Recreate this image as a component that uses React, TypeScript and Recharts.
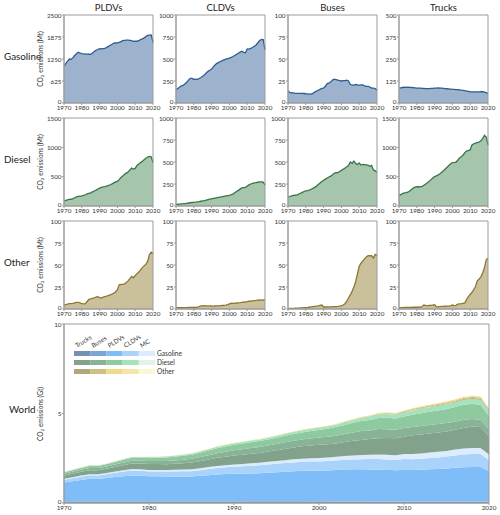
import { AreaChart, Area, XAxis, YAxis, ReferenceArea } from "recharts";

// years 1970..2020
const years = Array.from({ length: 51 }, (_, i) => 1970 + i);
const xTicks = [1970, 1980, 1990, 2000, 2010, 2020];

// Mt CO2, one value per year
const gasolinePLDVs = [
  1050, 1120, 1190, 1250, 1240, 1290, 1350, 1400, 1440, 1420,
  1400, 1395, 1390, 1390, 1385, 1380, 1420, 1460, 1500, 1520,
  1545, 1540, 1545, 1550, 1580, 1610, 1640, 1670, 1700, 1705,
  1710, 1720, 1745, 1770, 1780, 1785, 1785, 1780, 1770, 1750,
  1760, 1755, 1770, 1800, 1820, 1850, 1890, 1920, 1930, 1935,
  1720,
];
const gasolineCLDVs = [
  150, 165, 180, 195, 200, 215, 235, 260, 280, 280,
  270, 268, 270, 278, 290, 305, 320, 340, 360, 372,
  385, 410, 435, 450, 462, 472, 482, 490, 498, 505,
  510, 518, 528, 540, 552, 565, 578, 588, 575, 570,
  615, 612, 620, 630, 645, 660, 685, 710, 722, 720,
  605,
];
const gasolineBuses = [
  14, 12, 11.5, 11.5, 11, 11, 11, 11, 11, 10.8,
  10.5, 10.3, 10, 10.2, 11, 12.5, 13.5, 14.5, 15.5, 16.5,
  17, 19, 22, 22.5, 24, 26, 27, 26.5, 26, 25.5,
  25, 25.5, 25.5, 26, 25, 21, 20.5, 20, 21, 20.5,
  20, 20.5, 20.5, 19.5, 19, 19, 18, 17, 17, 16.5,
  14.5,
];
const gasolineTrucks = [
  84, 86, 88, 90, 89, 90, 89, 88, 87, 86,
  85, 84, 84, 83, 83, 82, 82, 82, 83, 83,
  84, 85, 86, 85, 84, 83, 82, 81, 80, 79,
  78, 77, 76, 76, 75, 73, 72, 70, 68, 66,
  64, 63, 63, 63, 63, 63, 64, 65, 62, 59,
  54,
];
const dieselPLDVs = [
  85, 95, 105, 112, 115, 125, 140, 155, 165, 170,
  172, 180, 192, 205, 215, 225, 240, 255, 270, 290,
  305, 318, 325, 330, 340, 350, 362, 378, 395, 410,
  420, 450, 485, 510, 540, 560, 580, 615, 645, 630,
  640, 690, 715, 740, 760, 790, 815, 835, 845, 840,
  740,
];
const dieselCLDVs = [
  18, 20, 22, 25, 26, 28, 31, 34, 37, 40,
  42, 44, 47, 50, 54, 58, 62, 67, 72, 77,
  82, 86, 90, 94, 98, 102, 106, 110, 114, 118,
  122, 128, 135, 150, 165, 178, 192, 205, 210, 212,
  228, 240, 250, 258, 263, 266, 270, 273, 275, 272,
  240,
];
const dieselBuses = [
  100, 108, 114, 120, 122, 127, 135, 145, 155, 165,
  172, 175, 180, 190, 200, 212, 228, 245, 262, 278,
  292, 305, 318, 330, 340, 355, 372, 378, 380, 392,
  405, 418, 430, 445, 460, 500, 485, 510, 485, 470,
  490, 465, 472, 470, 468, 465, 450, 462, 410, 400,
  380,
];
const dieselTrucks = [
  180, 195, 210, 225, 228, 235, 255, 280, 305, 322,
  330, 328, 325, 335, 355, 375, 395, 420, 450, 478,
  500, 512, 530, 550, 575, 600, 630, 660, 690, 720,
  740, 742, 745, 780, 820, 840, 870, 910, 940, 945,
  960, 1040, 1060, 1070, 1085, 1090, 1110, 1150, 1205, 1175,
  1040,
];
const otherPLDVs = [
  4.5, 5, 5.5, 6, 6.2, 6.5, 7, 7.5, 7.5, 7,
  6, 5.8, 6, 8.5, 11, 11.5, 12, 12.5, 13.5, 14,
  13, 12.5, 13.5, 14, 14.5, 15.5, 16, 17, 18, 19.5,
  22, 27.5, 28, 28, 28.5, 30, 32, 34.5, 37, 35.5,
  38, 40, 42, 44.5, 47, 49, 51, 54, 62, 64.5,
  63,
];
const otherCLDVs = [
  1.5, 1.5, 1.4, 1.4, 1.5, 1.5, 1.6, 1.7, 1.8, 1.8,
  1.7, 1.7, 2, 2.8, 3.5, 3.6, 3.7, 3.6, 3.5, 3.6,
  3.4, 3.3, 3.4, 3.5, 3.6, 3.8, 4, 4.2, 4.5, 5,
  5.8, 6.5, 6.3, 6.5, 6.8, 7, 7.2, 7.5, 8, 7.8,
  8.5, 8.8, 9, 9.3, 9.5, 9.7, 10, 10.2, 10, 10.3,
  10,
];
const otherBuses = [
  0.5, 0.6, 0.7, 0.8, 0.9, 1, 1.1, 1.2, 1.3, 1.4,
  1.5, 1.7, 2, 2.3, 2.6, 2.9, 3.2, 3.5, 4, 4.5,
  2.5, 2.3, 2.4, 2.5, 2.5, 2.6, 2.7, 2.8, 3, 3.3,
  3.8, 4.5, 6, 9, 12.5, 16, 20, 25, 31, 40,
  48.5, 52, 54.5, 57, 59, 60.5, 60.5, 60.5, 58, 62,
  61,
];
const otherTrucks = [
  1.5, 1.5, 1.6, 1.7, 1.7, 1.8, 1.8, 1.9, 2, 2,
  2, 2, 2.2, 2.8, 4.5, 4, 3.8, 4, 4.2, 4.5,
  4.8, 2.5, 2.6, 2.8, 3, 3, 3.1, 3.2, 3.3, 3.5,
  4.5, 3.8, 4.2, 5.5, 5.8, 6, 6.5, 7, 11, 14,
  16.5, 19, 22, 25.5, 32, 34, 36.5, 41, 47, 56,
  58,
];
// motorcycles, only in the world total
const mcGasoline = [
  50, 55, 60, 65, 62, 66, 70, 75, 80, 83,
  85, 87, 90, 94, 98, 102, 106, 110, 115, 120,
  125, 130, 136, 142, 148, 155, 162, 170, 175, 182,
  190, 198, 206, 215, 225, 235, 245, 255, 262, 268,
  280, 288, 295, 302, 310, 318, 325, 332, 340, 345,
  310,
];
const mcDiesel = [
  1, 1, 1, 1, 1, 1, 1, 1, 1, 1,
  1, 1, 1, 1, 1, 1, 2, 2, 2, 2,
  2, 2, 2, 2, 2, 3, 3, 3, 3, 3,
  3, 3, 4, 4, 4, 4, 5, 5, 5, 5,
  5, 6, 6, 6, 6, 6, 7, 7, 7, 7,
  6,
];
const mcOther = [
  1, 1, 1, 1, 1, 1, 1, 1, 1, 2,
  2, 2, 2, 2, 2, 2, 2, 2, 3, 3,
  3, 3, 3, 3, 3, 4, 4, 4, 4, 4,
  5, 5, 5, 6, 6, 6, 7, 7, 7, 8,
  8, 8, 9, 9, 9, 10, 10, 10, 10, 11,
  10,
];

const modes = ["PLDVs", "CLDVs", "Buses", "Trucks"];
const legendModes = ["Trucks", "Buses", "PLDVs", "CLDVs", "MC"];
const fuels = ["Gasoline", "Diesel", "Other"];

const gasolineTicks = [
  [0, 625, 1250, 1875, 2500],
  [0, 250, 500, 750, 1000],
  [0, 25, 50, 75, 100],
  [0, 125, 250, 375, 500],
];
const dieselTicks = [
  [0, 500, 1000, 1500],
  [0, 250, 500, 750, 1000],
  [0, 250, 500, 750, 1000],
  [0, 500, 1000, 1500],
];
const otherTicks = [
  [0, 25, 50, 75, 100],
  [0, 25, 50, 75, 100],
  [0, 25, 50, 75, 100],
  [0, 25, 50, 75, 100],
];
const worldTicks = [0, 5, 10];

const FONT = "Lato, 'Liberation Sans', Arial, sans-serif";
const FRAME = "#9b9b9b";
const TICK = { fontSize: 6.3, fill: "#333", fontFamily: FONT };

const fuelStyle = {
  Gasoline: { fill: "#9db2cc", stroke: "#2d5d92" },
  Diesel: { fill: "#a5c5ad", stroke: "#3a7448" },
  Other: { fill: "#cbc09c", stroke: "#8c7733" },
};

const worldColors = {
  Gasoline: ["#7491b6", "#7aa5d6", "#7fbdf8", "#a9d3fa", "#daecfd"],
  Diesel: ["#82a28b", "#89b396", "#8ec9a0", "#a4e3bc", "#e0f5e8"],
  Other: ["#b2a67b", "#d0c080", "#f1d98b", "#f6e5aa", "#fcf5da"],
};

const rows = [
  { fuel: "Gasoline", series: [gasolinePLDVs, gasolineCLDVs, gasolineBuses, gasolineTrucks], ticks: gasolineTicks },
  { fuel: "Diesel", series: [dieselPLDVs, dieselCLDVs, dieselBuses, dieselTrucks], ticks: dieselTicks },
  { fuel: "Other", series: [otherPLDVs, otherCLDVs, otherBuses, otherTrucks], ticks: otherTicks },
];

// world stack, bottom to top: Trucks, Buses, PLDVs, CLDVs, MC within each fuel
const worldStack = [
  { fuel: "Gasoline", series: [gasolineTrucks, gasolineBuses, gasolinePLDVs, gasolineCLDVs, mcGasoline] },
  { fuel: "Diesel", series: [dieselTrucks, dieselBuses, dieselPLDVs, dieselCLDVs, mcDiesel] },
  { fuel: "Other", series: [otherTrucks, otherBuses, otherPLDVs, otherCLDVs, mcOther] },
];

const worldData = years.map((year, i) => {
  const row: Record<string, number> = { year };
  worldStack.forEach((g) =>
    g.series.forEach((s, j) => {
      row[`${g.fuel}_${legendModes[j]}`] = s[i] / 1000;
    })
  );
  return row;
});

const colLeft = [64, 176, 288, 399];
const rowTop = [15, 118, 221];
const PW = 89;
const PH = 88;
const AXW = 24;
const RM = 10;

// y tick label; the zero sits a little higher so it clears the year below
function YTick({ x, y, payload }) {
  const lift = payload.value === 0 ? -1.6 : 0;
  return (
    <text
      x={x}
      y={y + lift}
      textAnchor="end"
      dominantBaseline="central"
      fontSize={TICK.fontSize}
      fill={TICK.fill}
      fontFamily={FONT}
    >
      {payload.value}
    </text>
  );
}

function Panel({ values, ticks, fuel, left, top }) {
  const data = years.map((year, i) => ({ year, value: values[i] }));
  const max = ticks[ticks.length - 1];
  const st = fuelStyle[fuel];
  return (
    <div style={{ position: "absolute", left: left - AXW, top: top - 5 }}>
      <AreaChart
        width={AXW + PW + RM}
        height={5 + PH + 14}
        data={data}
        margin={{ top: 5, right: RM, bottom: 0, left: 0 }}
      >
        <XAxis
          dataKey="year"
          type="number"
          domain={[1970, 2020]}
          ticks={xTicks}
          interval={0}
          height={14}
          tickSize={2}
          tickMargin={0.8}
          tick={TICK}
          stroke={FRAME}
        />
        <YAxis
          type="number"
          domain={[0, max]}
          ticks={ticks}
          interval={0}
          width={AXW}
          tickSize={2}
          tickMargin={0.5}
          tick={<YTick />}
          stroke={FRAME}
          allowDataOverflow
        />
        <Area
          dataKey="value"
          type="linear"
          fill={st.fill}
          fillOpacity={1}
          stroke={st.stroke}
          strokeWidth={1.3}
          isAnimationActive={false}
        />
        <ReferenceArea x1={1970} x2={2020} y1={0} y2={max} fill="none" stroke={FRAME} ifOverflow="visible" />
      </AreaChart>
    </div>
  );
}

function WorldChart() {
  const areas = [];
  worldStack.forEach((g) =>
    legendModes.forEach((m, j) => {
      areas.push(
        <Area
          key={`${g.fuel}_${m}`}
          dataKey={`${g.fuel}_${m}`}
          stackId="w"
          type="linear"
          fill={worldColors[g.fuel][j]}
          fillOpacity={1}
          stroke="none"
          isAnimationActive={false}
        />
      );
    })
  );
  return (
    <div style={{ position: "absolute", left: 64 - AXW, top: 324 - 5 }}>
      <AreaChart
        width={AXW + 425 + RM}
        height={5 + 179 + 12}
        data={worldData}
        margin={{ top: 5, right: RM, bottom: 0, left: 0 }}
      >
        <XAxis
          dataKey="year"
          type="number"
          domain={[1970, 2020]}
          ticks={xTicks}
          interval={0}
          height={12}
          tickSize={2}
          tickMargin={0.5}
          tick={TICK}
          stroke={FRAME}
        />
        <YAxis
          type="number"
          domain={[0, 10]}
          ticks={worldTicks}
          interval={0}
          width={AXW}
          tickSize={2}
          tickMargin={0.5}
          tick={<YTick />}
          stroke={FRAME}
        />
        {areas}
        <ReferenceArea x1={1970} x2={2020} y1={0} y2={10} fill="none" stroke={FRAME} ifOverflow="visible" />
      </AreaChart>
    </div>
  );
}

function yLabel(cx, cy, unit) {
  return (
    <text
      key={`yl${cy}`}
      transform={`translate(${cx}, ${cy}) rotate(-90)`}
      textAnchor="middle"
      fontSize={6.6}
      fill="#333"
    >
      CO<tspan fontSize={4.6} dy={1.5}>2</tspan>
      <tspan dy={-1.5}>{` emissions (${unit})`}</tspan>
    </text>
  );
}

function Overlay() {
  const lx = 74;
  const sw = 16.2;
  const legendRows = [351, 360, 369];
  return (
    <svg
      width={500}
      height={515}
      style={{ position: "absolute", left: 0, top: 0, pointerEvents: "none", fontFamily: FONT }}
    >
      {modes.map((m, c) => (
        <text key={m} x={colLeft[c] + PW / 2} y={11} textAnchor="middle" fontSize={9.5} fill="#222">
          {m}
        </text>
      ))}
      {fuels.map((f, r) => (
        <text key={f} x={4} y={rowTop[r] + PH / 2 + 1} fontSize={9.8} fill="#222">
          {f}
        </text>
      ))}
      <text x={9} y={413} fontSize={9.8} fill="#222">World</text>
      {rowTop.map((t) => yLabel(42.5, t + PH / 2, "Mt"))}
      {yLabel(42.5, 414, "Gt")}
      {legendModes.map((m, j) => (
        <text
          key={m}
          transform={`translate(${lx + j * sw + 3}, 348) rotate(-32)`}
          fontSize={6.3}
          fill="#333"
        >
          {m}
        </text>
      ))}
      {fuels.map((f, r) => (
        <g key={f}>
          {legendModes.map((m, j) => (
            <rect
              key={m}
              x={lx + j * sw}
              y={legendRows[r]}
              width={sw}
              height={5}
              fill={worldColors[f][j]}
            />
          ))}
          <text x={lx + 5 * sw + 2} y={legendRows[r] + 4.6} fontSize={6.6} fill="#333">
            {f}
          </text>
        </g>
      ))}
    </svg>
  );
}

export default function App() {
  return (
    <div style={{ position: "absolute", left: 0, top: 0, width: 500, height: 515, background: "#fff", fontFamily: FONT }}>
      {rows.map((row, r) =>
        row.series.map((values, c) => (
          <Panel
            key={`${r}-${c}`}
            values={values}
            ticks={row.ticks[c]}
            fuel={row.fuel}
            left={colLeft[c]}
            top={rowTop[r]}
          />
        ))
      )}
      <WorldChart />
      <Overlay />
    </div>
  );
}
